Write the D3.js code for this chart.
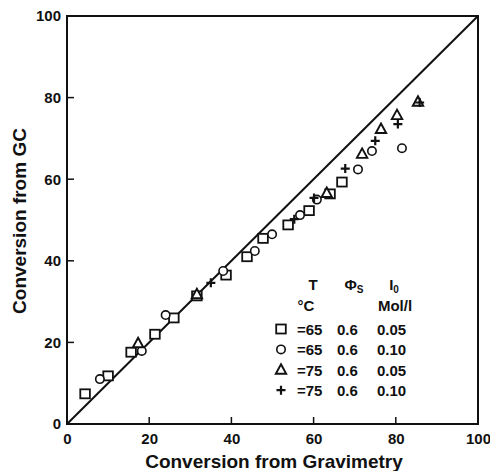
<!DOCTYPE html>
<html><head><meta charset="utf-8">
<script src="https://cdn.jsdelivr.net/npm/d3@7"></script>
<style>body{margin:0;background:#fff}svg text{font-family:"Liberation Sans",Arial,sans-serif;font-weight:bold;fill:#111}</style>
</head><body><svg id="c" width="490" height="471"></svg>
<script>
const xTicks = [0, 20, 40, 60, 80, 100];
const yTicks = [0, 20, 40, 60, 80, 100];
const squares = [[4.4,7.4],[10,11.8],[15.6,17.6],[21.4,22],[26,26],[31.6,31.4],[38.7,36.5],[43.8,41],[47.7,45.5],[53.8,48.8],[58.9,52.3],[64,56.4],[66.9,59.3]];
const circles = [[8,11],[18.2,17.9],[24,26.7],[38,37.5],[45.7,42.4],[49.9,46.5],[56.7,51.2],[60.8,55],[70.8,62.4],[74.2,66.9],[81.5,67.6]];
const triangles = [[17.3,19.8],[31.6,31.8],[63.2,56.6],[71.8,66.2],[76.4,72.3],[80.3,75.7],[85.4,79]];
const pluses = [[35,34.6],[55.3,50.2],[60.1,55.4],[67.7,62.6],[75,69.4],[80.5,73.5],[85.8,78.8]];
const legendRows = [
  {sym:"square", T:"=65", phi:"0.6", I:"0.05"},
  {sym:"circle", T:"=65", phi:"0.6", I:"0.10"},
  {sym:"triangle", T:"=75", phi:"0.6", I:"0.05"},
  {sym:"plus", T:"=75", phi:"0.6", I:"0.10"}
];

const svg = d3.select("#c");
const x = d3.scaleLinear().domain([0,100]).range([67,478]);
const y = d3.scaleLinear().domain([0,100]).range([424,16]);

// frame
svg.append("rect").attr("x",x(0)).attr("y",y(100)).attr("width",x(100)-x(0)).attr("height",y(0)-y(100))
  .attr("fill","none").attr("stroke","#111").attr("stroke-width",2);

// axes
const xa = svg.append("g").attr("transform",`translate(0,${y(0)})`)
  .call(d3.axisBottom(x).tickValues(xTicks).tickSize(0).tickPadding(9));
xa.select(".domain").remove();
xa.selectAll("text").attr("font-size",15);
svg.append("g").selectAll("line").data(xTicks.slice(1,-1)).join("line")
  .attr("x1",d=>x(d)).attr("x2",d=>x(d)).attr("y1",y(0)).attr("y2",y(0)-7).attr("stroke","#111").attr("stroke-width",1.5);

const ya = svg.append("g").attr("transform",`translate(${x(0)},0)`)
  .call(d3.axisLeft(y).tickValues(yTicks).tickSize(0).tickPadding(6));
ya.select(".domain").remove();
ya.selectAll("text").attr("font-size",15);
svg.append("g").selectAll("line").data(yTicks.slice(1,-1)).join("line")
  .attr("y1",d=>y(d)).attr("y2",d=>y(d)).attr("x1",x(0)).attr("x2",x(0)+7).attr("stroke","#111").attr("stroke-width",1.5);

// titles
svg.append("text").attr("x",274).attr("y",468).attr("text-anchor","middle").attr("font-size",19).text("Conversion from Gravimetry");
svg.append("text").attr("transform","translate(26,221) rotate(-90)").attr("text-anchor","middle").attr("font-size",19).text("Conversion from GC");

// diagonal
svg.append("line").attr("x1",x(0)).attr("y1",y(0)).attr("x2",x(100)).attr("y2",y(100)).attr("stroke","#111").attr("stroke-width",2);

function drawSym(g, type, cx, cy){
  if(type==="square") g.append("rect").attr("x",cx-4.8).attr("y",cy-4.5).attr("width",9.6).attr("height",9).attr("fill","white").attr("stroke","#111").attr("stroke-width",1.8);
  else if(type==="circle") g.append("circle").attr("cx",cx).attr("cy",cy).attr("r",4.2).attr("fill","white").attr("stroke","#111").attr("stroke-width",1.6);
  else if(type==="triangle") g.append("path").attr("d",`M${cx},${cy-5.5}L${cx+5.2},${cy+4}L${cx-5.2},${cy+4}Z`).attr("fill","white").attr("stroke","#111").attr("stroke-width",1.9);
  else g.append("path").attr("d",`M${cx-4.5},${cy}H${cx+4.5}M${cx},${cy-4.5}V${cy+4.5}`).attr("stroke","#111").attr("stroke-width",2.2);
}
const pts = svg.append("g");
[["square",squares],["circle",circles],["triangle",triangles],["plus",pluses]].forEach(([t,arr])=>{
  arr.forEach(d=>drawSym(pts,t,x(d[0]),y(d[1])));
});

// legend
const lg = svg.append("g");
lg.append("text").attr("x",313).attr("y",290).attr("text-anchor","middle").attr("font-size",15).text("T");
const phi = lg.append("text").attr("x",354).attr("y",290).attr("text-anchor","middle").attr("font-size",15);
phi.append("tspan").text("Φ");
phi.append("tspan").attr("font-size",10).attr("dy",3).text("S");
const i0 = lg.append("text").attr("x",394).attr("y",290).attr("text-anchor","middle").attr("font-size",15);
i0.append("tspan").text("I");
i0.append("tspan").attr("font-size",10).attr("dy",3).text("0");
lg.append("text").attr("x",306).attr("y",311).attr("text-anchor","middle").attr("font-size",15).text("°C");
lg.append("text").attr("x",395).attr("y",311).attr("text-anchor","middle").attr("font-size",15).text("Mol/l");
legendRows.forEach((r,i)=>{
  const yy = 329 + i*20.4;
  drawSym(lg, r.sym, 281, yy);
  lg.append("text").attr("x",297).attr("y",yy+6).attr("font-size",15).text(r.T);
  lg.append("text").attr("x",337).attr("y",yy+6).attr("font-size",15).text(r.phi);
  lg.append("text").attr("x",377).attr("y",yy+6).attr("font-size",15).text(r.I);
});
</script></body></html>
